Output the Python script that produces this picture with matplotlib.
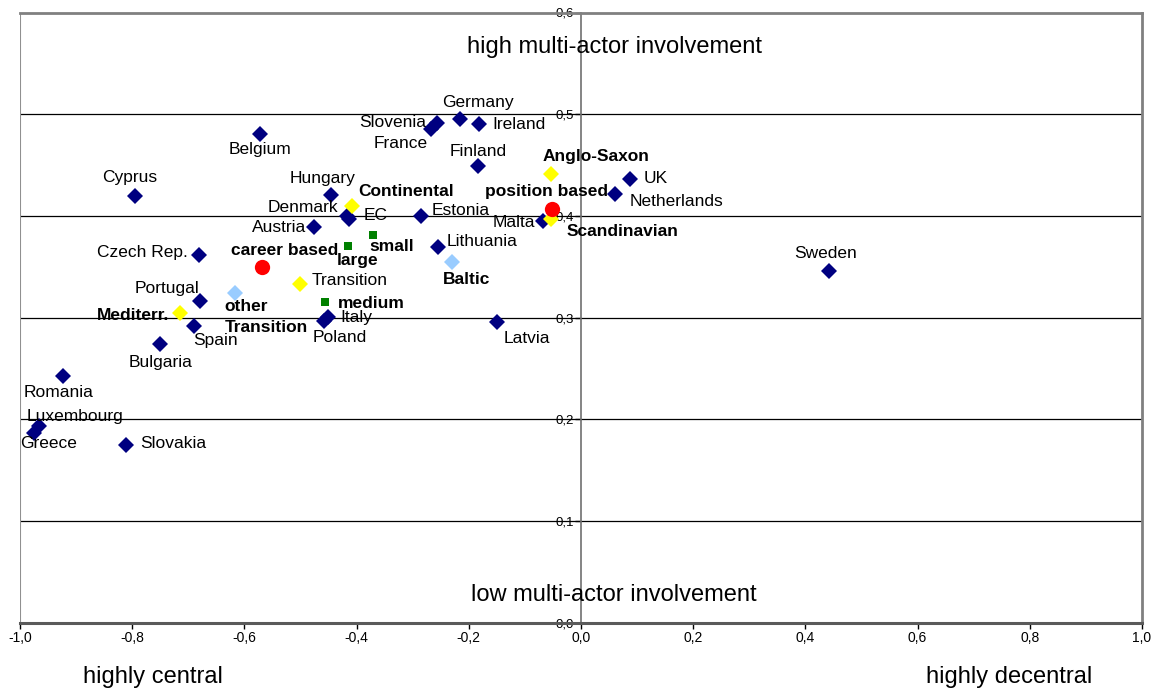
import matplotlib
matplotlib.use('Agg')
import matplotlib.pyplot as plt

plt.rcParams['font.family'] = ['Liberation Sans', 'DejaVu Sans']

# countries (navy diamonds)
countries = ["Germany", "Slovenia", "France", "Ireland", "Finland", "Belgium", "Cyprus",
             "Hungary", "Denmark", "EC", "Austria", "Estonia", "Lithuania", "Latvia",
             "Malta", "UK", "Netherlands", "Sweden", "Czech Rep.", "Portugal", "Spain",
             "Italy", "Poland", "Bulgaria", "Romania", "Luxembourg", "Greece", "Slovakia"]
country_x = [-0.216, -0.257, -0.267, -0.182, -0.184, -0.572, -0.795,
             -0.446, -0.418, -0.413, -0.476, -0.285, -0.255, -0.150,
             -0.068, 0.087, 0.061, 0.442, -0.681, -0.679, -0.690,
             -0.451, -0.458, -0.750, -0.923, -0.966, -0.975, -0.811]
country_y = [0.495, 0.491, 0.485, 0.490, 0.449, 0.481, 0.420,
             0.421, 0.400, 0.397, 0.389, 0.400, 0.369, 0.296,
             0.395, 0.436, 0.422, 0.346, 0.362, 0.316, 0.292,
             0.301, 0.297, 0.274, 0.243, 0.193, 0.187, 0.175]

# welfare regime groups (yellow diamonds)
regimes = ["Continental", "Anglo-Saxon", "Scandinavian", "Transition", "Mediterr."]
regime_x = [-0.408, -0.053, -0.053, -0.501, -0.715]
regime_y = [0.410, 0.441, 0.397, 0.333, 0.305]

# transition subgroups (light blue diamonds)
subgroups = ["other\nTransition", "Baltic"]
subgroup_x = [-0.617, -0.230]
subgroup_y = [0.324, 0.355]

# career systems (red circles)
careers = ["career based", "position based"]
career_x = [-0.569, -0.052]
career_y = [0.350, 0.407]

# country size (green squares)
sizes = ["small", "large", "medium"]
size_x = [-0.371, -0.415, -0.456]
size_y = [0.381, 0.370, 0.315]

# label offsets in pixels (dx, dy, ha)
offsets = {
    "Germany": (18, 17, "center"), "Slovenia": (-11, 1, "right"), "France": (-3, -14, "right"),
    "Ireland": (13, 0, "left"), "Finland": (0, 15, "center"), "Belgium": (0, -16, "center"),
    "Cyprus": (-5, 18, "center"), "Hungary": (-8, 16, "center"), "Denmark": (-8, 8, "right"),
    "EC": (14, 3, "left"), "Austria": (-8, 0, "right"), "Estonia": (11, 5, "left"),
    "Lithuania": (9, 6, "left"), "Latvia": (30, -17, "center"), "Malta": (-8, -2, "right"),
    "UK": (14, 1, "left"), "Netherlands": (14, -8, "left"), "Sweden": (-3, 17, "center"),
    "Czech Rep.": (-11, 2, "right"), "Portugal": (-1, 13, "right"), "Spain": (-1, -15, "left"),
    "Italy": (12, -1, "left"), "Poland": (-11, -17, "left"), "Bulgaria": (0, -18, "center"),
    "Romania": (-5, -17, "center"), "Luxembourg": (-12, 10, "left"), "Greece": (-14, -11, "left"),
    "Slovakia": (14, 1, "left"),
    "Continental": (6, 14, "left"), "Anglo-Saxon": (45, 18, "center"),
    "Scandinavian": (15, -13, "left"), "Transition": (12, 4, "left"), "Mediterr.": (-11, -3, "right"),
    "other\nTransition": (-10, -24, "left"), "Baltic": (15, -18, "center"),
    "career based": (-31, 16, "left"), "position based": (56, 17, "right"),
    "small": (-4, -11, "left"), "large": (-11, -14, "left"), "medium": (13, -1, "left"),
}

fig = plt.figure(figsize=(11.56, 6.9), dpi=100)
ax = fig.add_axes([20 / 1156, 1 - 622.7 / 690, 1122 / 1156, 610.2 / 690])

ax.set_xlim(-1, 1)
ax.set_ylim(0, 0.6)

# grid lines
for gy in [0.1, 0.2, 0.3, 0.4, 0.5]:
    ax.axhline(gy, color="black", lw=0.9, zorder=1)

for s in ["top", "right"]:
    ax.spines[s].set_color("#808080")
    ax.spines[s].set_linewidth(2)
ax.spines["bottom"].set_color("#5a5a5a")
ax.spines["bottom"].set_linewidth(2.2)
ax.spines["left"].set_position(("data", 0))
ax.spines["left"].set_color("#707070")
ax.spines["left"].set_linewidth(1.2)
ax.axvline(-1, color="#909090", lw=1.5, zorder=1)

ax.set_xticks([-1, -0.8, -0.6, -0.4, -0.2, 0, 0.2, 0.4, 0.6, 0.8, 1.0])
ax.set_xticklabels([f"{v:.1f}".replace(".", ",") for v in ax.get_xticks()])
ax.set_yticks([0, 0.1, 0.2, 0.3, 0.4, 0.5, 0.6])
ax.set_yticklabels([f"{v:.1f}".replace(".", ",") for v in ax.get_yticks()])
ax.tick_params(axis="both", labelsize=10, colors="black", length=4, width=1, direction="out")
ax.tick_params(axis="x", pad=2)
ax.tick_params(axis="y", pad=1, labelsize=9.5)

ms_d = 8
ax.plot(country_x, country_y, "D", color="#000080", ms=ms_d, mew=0, zorder=3)
ax.plot(regime_x, regime_y, "D", color="#FFFF00", ms=ms_d, mew=0, zorder=4)
ax.plot(subgroup_x, subgroup_y, "D", color="#99CCFF", ms=ms_d, mew=0, zorder=4)
ax.plot(career_x, career_y, "o", color="#FF0000", ms=11, mew=0, zorder=5)
ax.plot(size_x, size_y, "s", color="#008000", ms=6, mew=0, zorder=4)


def label(names, xs, ys, bold):
    for n, x, y in zip(names, xs, ys):
        dx, dy, ha = offsets[n]
        w = "bold" if bold and n != "Transition" else "normal"
        ax.annotate(n, (x, y), xytext=(dx, dy), textcoords="offset pixels",
                    ha=ha, va="center", fontsize=12.5, fontweight=w,
                    linespacing=1.45, zorder=6)


label(countries, country_x, country_y, False)
label(regimes, regime_x, regime_y, True)
label(subgroups, subgroup_x, subgroup_y, True)
label(careers, career_x, career_y, True)
label(sizes, size_x, size_y, True)

ax.text(0.059, 0.566, "high multi-actor involvement", ha="center", va="center", fontsize=17)
ax.text(0.059, 0.027, "low multi-actor involvement", ha="center", va="center", fontsize=17)
fig.text(153 / 1156, 1 - 677 / 690, "highly central", ha="center", va="center", fontsize=17)
fig.text(1009 / 1156, 1 - 677 / 690, "highly decentral", ha="center", va="center", fontsize=17)

fig.savefig("out.png", dpi=100)
plt.close(fig)
